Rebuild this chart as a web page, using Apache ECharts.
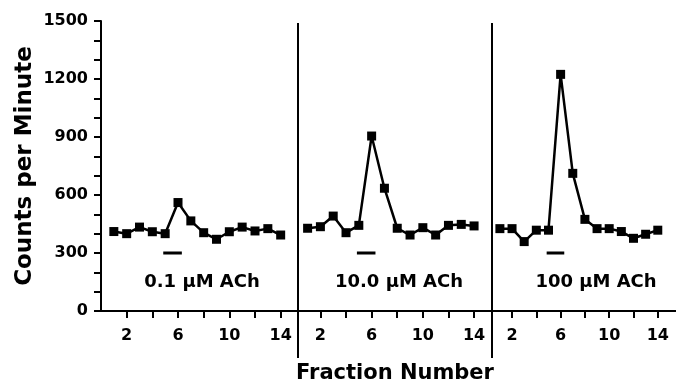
<!DOCTYPE html>
<html>
<head>
<meta charset="utf-8">
<script src="https://cdn.jsdelivr.net/npm/echarts@6/dist/echarts.min.js"></script>
<style>
    html, body { margin: 0; padding: 0; background: #fff; }
    #chart1 { width: 676px; height: 380px; }
</style>
</head>
<body>
<div id="chart1"></div>
<script>
var fractions = [1, 2, 3, 4, 5, 6, 7, 8, 9, 10, 11, 12, 13, 14]
var panelLabels = ['0.1 μM ACh', '10.0 μM ACh', '100 μM ACh']
var counts01 = [411, 400, 434, 410, 400, 561, 466, 405, 371, 410, 434, 414, 426, 393]
var counts10 = [428, 436, 491, 405, 443, 905, 635, 428, 393, 431, 393, 443, 448, 440]
var counts100 = [426, 426, 359, 418, 418, 1224, 712, 474, 426, 426, 411, 376, 397, 418]
var stimFractions = [4.85, 6.3] // bar under the peak = ACh application
var stimLevel = 300
var xTickValues = [2, 4, 6, 8, 10, 12, 14]
var xLabelValues = [2, 6, 10, 14]
var yMin = 0
var yMax = 1500

var FONT = 'DejaVu Sans'

function _initChart () {
    var myChart = echarts.init(document.getElementById('chart1'))
    var panels = [counts01, counts10, counts100]
    // 每个小图的位置
    var lefts = [101, 298, 492]
    var widths = [197, 194, 194]
    var xMins = [0, 0.25, 0.35]
    var xMaxs = [15.35, 15.4, 15.5]
    var labelCenters = [197, 394, 591]

    var grid = [], xAxis = [], yAxis = [], series = [], title = []
    panels.forEach(function (counts, i) {
        grid.push({ left: lefts[i], width: widths[i], top: 21, height: 290 })
        xAxis.push({
            type: 'value',
            gridIndex: i,
            min: xMins[i],
            max: xMaxs[i],
            splitLine: { show: false },
            axisLine: { lineStyle: { color: '#000', width: 2 } },
            axisTick: { customValues: xTickValues, length: 7, lineStyle: { color: '#000', width: 2 } },
            axisLabel: {
                customValues: xLabelValues,
                margin: 17,
                color: '#000',
                fontSize: 16,
                fontWeight: 'bold',
                fontFamily: FONT
            }
        })
        yAxis.push({
            type: 'value',
            gridIndex: i,
            min: yMin,
            max: yMax,
            interval: 100,
            show: i === 0,
            splitLine: { show: false },
            axisLine: { show: true, lineStyle: { color: '#000', width: 2 } },
            axisTick: { length: 7, lineStyle: { color: '#000', width: 2 } },
            axisLabel: {
                margin: 13,
                color: '#000',
                fontSize: 16,
                fontWeight: 'bold',
                fontFamily: FONT,
                formatter: function (v) { return v % 300 === 0 ? v : '' }
            },
            name: i === 0 ? 'Counts per Minute' : '',
            nameLocation: 'middle',
            nameGap: 64,
            nameTextStyle: { color: '#000', fontSize: 23, fontWeight: 'bold', fontFamily: FONT }
        })
        series.push({
            type: 'line',
            xAxisIndex: i,
            yAxisIndex: i,
            symbol: 'rect',
            symbolSize: 9,
            lineStyle: { color: '#000', width: 2.5 },
            itemStyle: { color: '#000' },
            data: fractions.map(function (f, k) { return [f, counts[k]] })
        })
        series.push({
            type: 'line',
            xAxisIndex: i,
            yAxisIndex: i,
            symbol: 'none',
            lineStyle: { color: '#000', width: 3 },
            data: stimFractions.map(function (f) { return [f, stimLevel] })
        })
        title.push({
            text: panelLabels[i],
            left: labelCenters[i],
            top: 268,
            textAlign: 'center',
            textStyle: { color: '#000', fontSize: 18, fontWeight: 'bold', fontFamily: FONT }
        })
    })
    title.push({
        text: 'Fraction Number',
        left: 390,
        top: 358,
        textAlign: 'center',
        textStyle: { color: '#000', fontSize: 21, fontWeight: 'bold', fontFamily: FONT }
    })

    var option = {
        animation: false,
        backgroundColor: '#fff',
        title: title,
        grid: grid,
        xAxis: xAxis,
        yAxis: yAxis,
        series: series,
        graphic: [298, 492].map(function (x) {
            return {
                type: 'line',
                shape: { x1: x, y1: 23, x2: x, y2: 358 },
                style: { stroke: '#000', lineWidth: 2 }
            }
        })
    }
    myChart.setOption(option)
}

_initChart()
</script>
</body>
</html>
